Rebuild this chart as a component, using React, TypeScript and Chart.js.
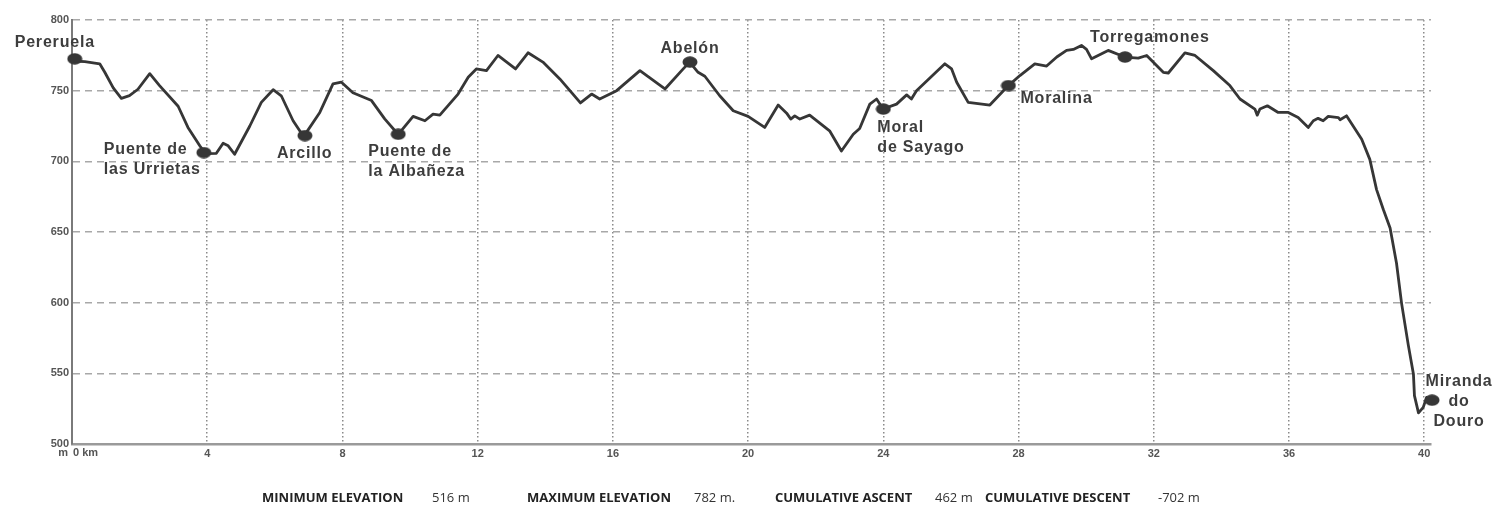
import React, { useEffect, useRef } from 'react';
import { Chart, registerables } from 'chart.js';

Chart.register(...registerables);

// ---------- data ----------
const DIST_KM = [
  0.0, 0.38, 0.82, 0.97, 1.22, 1.46, 1.7, 1.95, 2.3, 2.59, 3.14, 3.43, 3.78, 3.95, 4.27, 4.47, 4.62, 4.81,
  5.26, 5.6, 5.95, 6.19, 6.54, 6.85, 7.33, 7.72, 7.97, 8.31, 8.86, 9.25, 9.65, 10.09, 10.44, 10.68, 10.88,
  11.42, 11.72, 11.96, 12.26, 12.6, 13.12, 13.49, 13.93, 14.43, 15.04, 15.37, 15.61, 16.11, 16.8, 17.54,
  18.08, 18.27, 18.52, 18.72, 19.16, 19.56, 20.0, 20.49, 20.89, 21.14, 21.26, 21.38, 21.53, 21.82, 22.41,
  22.76, 23.11, 23.3, 23.6, 23.8, 23.99, 24.39, 24.69, 24.83, 24.98, 25.82, 26.02, 26.17, 26.51, 27.15,
  27.7, 28.04, 28.48, 28.83, 29.13, 29.42, 29.62, 29.86, 30.01, 30.16, 30.65, 31.14, 31.54, 31.79, 32.28,
  32.43, 32.92, 33.22, 33.76, 34.25, 34.55, 34.99, 35.06, 35.14, 35.36, 35.68, 35.98, 36.27, 36.57, 36.72,
  36.86, 37.01, 37.16, 37.46, 37.51, 37.7, 38.15, 38.39, 38.59, 38.79, 38.99, 39.18, 39.33, 39.53, 39.68,
  39.71, 39.83, 39.97, 40.07,
];
const ELEV_M = [
  771, 770.5, 769, 763, 752, 744.6, 746.5, 751, 762, 753.6, 739, 724, 711, 705.5, 705.7, 712.8, 711, 705,
  725, 741.7, 750.7, 746.4, 728.7, 717.5, 734.6, 754.8, 756, 748.5, 743, 730, 719, 731.8, 728.7, 733.4, 732.7,
  747.6, 759.5, 765.4, 764.2, 774.9, 765.4, 776.8, 770.2, 758.3, 741.3, 747.6, 744.1, 750, 764.2, 751.2,
  765.4, 770.2, 763, 760.2, 746.4, 735.8, 731.8, 724, 739.8, 734.1, 729.9, 732.2, 729.9, 732.7, 721.6,
  707.3, 719.2, 723.2, 740.5, 744.1, 737, 740.5, 747, 744.1, 750, 769, 765.4, 756, 741.7, 739.8,
  753.6, 760.7, 769, 767.4, 773.8, 778.5, 779.2, 782, 779.2, 772.5, 778.5, 773.8, 773, 774.9, 763,
  762.5, 776.8, 774.9, 764.2, 753.6, 744.1, 737, 732.7, 737, 739.3, 734.6, 734.6, 731, 724, 728.7,
  730.4, 728.7, 731.8, 731, 729.4, 732.2, 715.6, 701.4, 680, 665.9, 652.8, 627.9, 599.5, 569.8, 549.6,
  534.2, 522, 525.9, 533,
];

const PLACE_LINES: string[][] = [
  ['Pereruela'],
  ['Puente de', 'las Urrietas'],
  ['Arcillo'],
  ['Puente de', 'la Albañeza'],
  ['Abelón'],
  ['Moral', 'de Sayago'],
  ['Moralina'],
  ['Torregamones'],
  ['Miranda', 'do', 'Douro'],
];
const PLACE_KM = [0.08, 3.9, 6.89, 9.65, 18.28, 24.0, 27.7, 31.15, 40.23];
const PLACE_ELEV = [772.5, 706.2, 718.2, 719.2, 770.2, 737, 753.6, 773.8, 531];

const Y_MIN = 500;
const Y_MAX = 800;
const Y_STEP = 50;
const X_MIN = 0;
const X_MAX = 40.2;
const X_STEP = 4;
const X_ORIGIN_LABEL = '0 km';
const Y_UNIT_LABEL = 'm';

const FOOTER_LABELS = ['MINIMUM ELEVATION', 'MAXIMUM ELEVATION', 'CUMULATIVE ASCENT', 'CUMULATIVE DESCENT'];
const FOOTER_VALUES = ['516 m', '782 m.', '462 m', '-702 m'];

// ---------- styling (positions relative to the marks) ----------
const LABEL_STYLE: { dx: number; dy: number; align: CanvasTextAlign }[] = [
  { dx: -60, dy: -16, align: 'left' },
  { dx: -100, dy: -3, align: 'left' },
  { dx: -28, dy: 18, align: 'left' },
  { dx: -30, dy: 17, align: 'left' },
  { dx: 0, dy: -14, align: 'center' },
  { dx: -6, dy: 19, align: 'left' },
  { dx: 12, dy: 13, align: 'left' },
  { dx: -35, dy: -19, align: 'left' },
  { dx: 27, dy: -19, align: 'center' },
];
const FOOTER_LABEL_X = [262, 527, 775, 985];
const FOOTER_VALUE_X = [432, 694, 935, 1158];

const LINE_COLOR = '#363636';
const TEXT_COLOR = '#3d3d3d';

function makeDotImage(): HTMLCanvasElement {
  const c = document.createElement('canvas');
  c.width = 16;
  c.height = 12;
  const g = c.getContext('2d')!;
  g.fillStyle = LINE_COLOR;
  g.beginPath();
  g.ellipse(8, 6, 7.5, 5.8, 0, 0, Math.PI * 2);
  g.fill();
  return c;
}

const labelPlugin = {
  id: 'placeLabels',
  afterDatasetsDraw(chart: any) {
    const { ctx, scales } = chart;
    const xs = scales.x;
    const ys = scales.y;
    ctx.save();
    ctx.fillStyle = TEXT_COLOR;
    ctx.font = 'bold 16px "Liberation Sans", Arial, sans-serif';
    try { (ctx as any).letterSpacing = '0.8px'; } catch (e) { /* ignore */ }
    ctx.textBaseline = 'middle';
    PLACE_LINES.forEach((lines, i) => {
      const px = xs.getPixelForValue(PLACE_KM[i]);
      const py = ys.getPixelForValue(PLACE_ELEV[i]);
      const st = LABEL_STYLE[i];
      ctx.textAlign = st.align;
      lines.forEach((t, j) => {
        ctx.fillText(t, px + st.dx, py + st.dy + j * 20);
      });
    });
    try { (ctx as any).letterSpacing = '0px'; } catch (e) { /* ignore */ }
    // origin labels
    const x0 = xs.getPixelForValue(X_MIN);
    const yb = ys.getPixelForValue(Y_MIN);
    ctx.font = 'bold 11px "Liberation Sans", Arial, sans-serif';
    ctx.fillStyle = '#555';
    ctx.textAlign = 'right';
    ctx.fillText(Y_UNIT_LABEL, x0 - 4, yb + 9);
    ctx.textAlign = 'left';
    ctx.fillText(X_ORIGIN_LABEL, x0 + 1, yb + 9);
    ctx.restore();
  },
};

export default function App() {
  const ref = useRef<HTMLCanvasElement | null>(null);

  useEffect(() => {
    if (!ref.current) return;
    const lineData = DIST_KM.map((d, i) => ({ x: d, y: ELEV_M[i] }));
    const dotData = PLACE_KM.map((d, i) => ({ x: d, y: PLACE_ELEV[i] }));
    const dot = makeDotImage();
    const chart = new Chart(ref.current, {
      type: 'line',
      data: {
        datasets: [
          {
            data: dotData,
            showLine: false,
            pointStyle: dot as any,
            pointRadius: 7,
            borderWidth: 0,
            clip: false as any,
            order: 0,
          },
          {
            data: lineData,
            borderColor: LINE_COLOR,
            borderWidth: 2.8,
            pointRadius: 0,
            tension: 0,
            fill: false,
            clip: false as any,
            borderJoinStyle: 'round',
            borderCapStyle: 'round',
            order: 1,
          },
        ],
      },
      options: {
        animation: false,
        responsive: false,
        events: [],
        layout: { padding: { top: 20, right: 66, bottom: 45, left: 0 } },
        plugins: { legend: { display: false }, tooltip: { enabled: false }, title: { display: false } },
        scales: {
          x: {
            type: 'linear',
            min: X_MIN,
            max: X_MAX,
            afterFit: (s: any) => { s.height = 20; },
            ticks: {
              stepSize: X_STEP,
              includeBounds: false,
              padding: 3,
              color: '#555',
              font: { family: '"Liberation Sans", Arial, sans-serif', size: 11, weight: 'bold' },
              callback: (v: any) => (v === X_MIN ? '' : String(v)),
              maxRotation: 0,
              autoSkip: false,
            },
            grid: {
              drawTicks: false,
              lineWidth: 1.5,
              color: (c: any) => (c.tick && c.tick.value === X_MIN ? 'rgba(0,0,0,0)' : '#8a8a8a'),
            },
            border: { display: true, color: '#9a9a9a', width: 2.5, dash: [1.5, 2.5] },
          },
          y: {
            type: 'linear',
            min: Y_MIN,
            max: Y_MAX,
            afterFit: (s: any) => { s.width = 72; },
            ticks: {
              stepSize: Y_STEP,
              padding: 3,
              color: '#555',
              font: { family: '"Liberation Sans", Arial, sans-serif', size: 11, weight: 'bold' },
            },
            grid: {
              drawTicks: false,
              lineWidth: 1.5,
              color: (c: any) => (c.tick && c.tick.value === Y_MIN ? 'rgba(0,0,0,0)' : '#a8a8a8'),
            },
            border: { display: true, color: '#7a7a7a', width: 2, dash: [7, 5] },
          },
        },
      },
      plugins: [labelPlugin],
    });
    return () => chart.destroy();
  }, []);

  const footerFont = '"Open Sans", "Liberation Sans", Arial, sans-serif';
  return (
    <div style={{ position: 'absolute', left: 0, top: 0, width: 1497, height: 509, background: '#fff' }}>
      <canvas ref={ref} width={1497} height={509} style={{ position: 'absolute', left: 0, top: 0 }} />
      {FOOTER_LABELS.map((t, i) => (
        <span
          key={'l' + i}
          style={{
            position: 'absolute', left: FOOTER_LABEL_X[i], top: 489, fontFamily: footerFont,
            fontWeight: 700, fontSize: 13, lineHeight: '16px', color: '#222', whiteSpace: 'nowrap',
          }}
        >{t}</span>
      ))}
      {FOOTER_VALUES.map((t, i) => (
        <span
          key={'v' + i}
          style={{
            position: 'absolute', left: FOOTER_VALUE_X[i], top: 489, fontFamily: footerFont,
            fontWeight: 400, fontSize: 13, lineHeight: '16px', color: '#333', whiteSpace: 'nowrap',
          }}
        >{t}</span>
      ))}
    </div>
  );
}
